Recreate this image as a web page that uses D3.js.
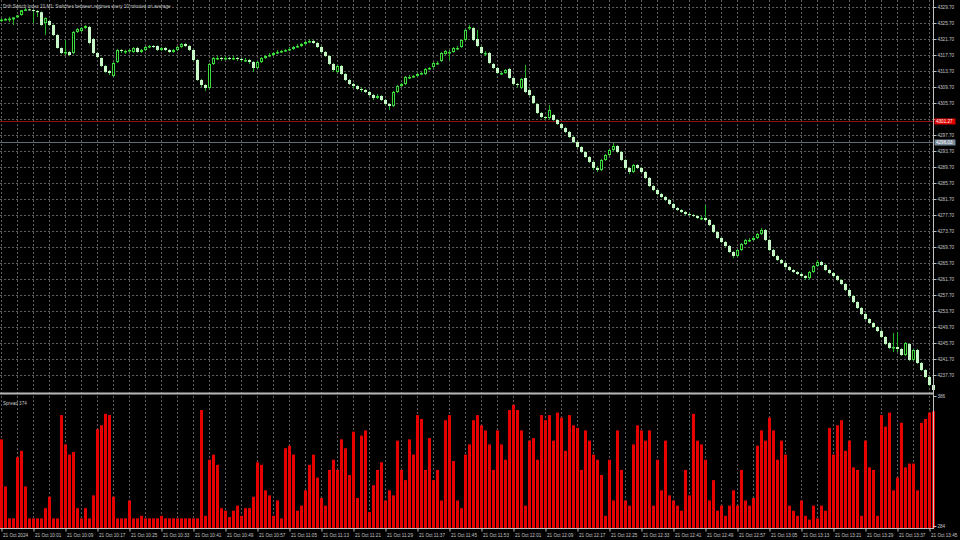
<!DOCTYPE html>
<html><head><meta charset="utf-8">
<script src="https://cdn.jsdelivr.net/npm/d3@7"></script>
<style>html,body{margin:0;padding:0;background:#000;overflow:hidden}</style>
</head><body>
<svg id="c" width="960" height="540"></svg>
<script>
const title = "Drift Switch Index 10,M1: Switches between regimes every 10 minutes on average";
const subTitle = "Spread 374";
const timeLabels = ["21 Oct 2024","21 Oct 10:01","21 Oct 10:09","21 Oct 10:17","21 Oct 10:25","21 Oct 10:33","21 Oct 10:41","21 Oct 10:49","21 Oct 10:57","21 Oct 11:05","21 Oct 11:13","21 Oct 11:21","21 Oct 11:29","21 Oct 11:37","21 Oct 11:45","21 Oct 11:53","21 Oct 12:01","21 Oct 12:09","21 Oct 12:17","21 Oct 12:25","21 Oct 12:33","21 Oct 12:41","21 Oct 12:49","21 Oct 12:57","21 Oct 13:05","21 Oct 13:13","21 Oct 13:21","21 Oct 13:29","21 Oct 13:37","21 Oct 13:45"];
const priceTicks = [4329.70,4325.70,4321.70,4317.70,4313.70,4309.70,4305.70,4301.70,4297.70,4293.70,4289.70,4285.70,4281.70,4277.70,4273.70,4269.70,4265.70,4261.70,4257.70,4253.70,4249.70,4245.70,4241.70,4237.70];
const spreadTicks = [386, 284];
const askLevel = 4301.27;
const bidLevel = 4296.03;

const opens = [4326.30,4326.55,4326.70,4326.60,4327.10,4327.70,4328.90,4329.10,4328.95,4328.70,4328.40,4325.70,4326.20,4325.20,4322.70,4319.45,4318.20,4318.45,4318.20,4323.45,4323.70,4324.45,4324.70,4321.70,4318.20,4316.95,4314.95,4313.70,4312.45,4315.95,4318.95,4318.70,4318.70,4318.45,4319.45,4318.45,4318.95,4319.70,4319.95,4319.95,
4318.95,4319.45,4318.95,4318.45,4318.95,4319.70,4320.45,4319.95,4318.95,4316.45,4311.45,4310.20,4309.45,4315.45,4316.95,4316.95,4316.70,4316.95,4316.70,4316.95,4316.70,4316.45,4316.45,4315.95,4314.45,4315.95,4316.95,4317.45,4317.70,4318.20,4318.45,4318.70,4318.95,4319.20,4319.70,4319.95,4320.45,4320.95,4321.20,4320.70,4319.70,4318.45,4317.45,4315.45,4313.45,4314.95,4312.95,4311.45,4310.45,4309.95,4309.20,4308.95,4308.45,4307.70,4306.95,4307.45,4306.45,4305.45,4304.95,4308.45,4309.95,4310.45,4312.20,4312.20,4312.45,4312.95,4312.95,4314.20,4314.70,4315.70,4316.20,4317.95,4318.45,4318.45,4319.45,4319.70,4321.45,4324.45,4324.45,4321.70,4319.70,4318.20,4318.20,4315.45,4314.45,4313.20,4313.20,4314.20,4311.95,4310.45,4309.45,4311.95,4308.95,4307.45,4305.45,4303.20,4302.20,4301.95,4302.70,4301.45,4300.45,4299.45,4298.45,4297.20,4295.95,4294.70,4293.45,4292.20,4290.95,4289.45,4288.95,4291.45,4292.70,4293.95,4294.95,4293.45,4291.45,4289.45,4288.45,4290.20,4289.45,4288.45,4286.95,4284.95,4283.95,4282.95,4282.20,4281.45,4280.45,4279.45,4278.95,4278.45,4277.95,4277.70,4277.45,4276.95,4276.95,4276.45,4275.20,4273.45,4271.95,4270.95,4269.95,4268.45,4267.45,4268.95,4270.45,4271.45,4271.45,4271.95,4272.95,4273.95,4271.45,4268.95,4267.45,4266.45,4265.70,4264.70,4263.95,4263.45,4262.95,4262.45,4261.95,4263.45,4264.95,4265.95,4265.20,4263.95,4263.20,4262.45,4261.45,4260.45,4258.95,4257.45,4255.95,4254.45,4252.95,4251.70,4250.70,4249.70,4248.70,4247.20,4245.70,4244.45,4244.70,4244.20,4242.70,4245.45,4241.45,4243.95,4240.70,4238.95,4237.20,4235.20];
const highs = [4326.90,4326.95,4327.25,4327.20,4327.70,4329.00,4329.45,4329.30,4329.10,4328.95,4328.60,4327.10,4326.50,4325.40,4322.90,4319.60,4321.45,4318.70,4323.70,4324.45,4324.70,4325.20,4325.00,4321.90,4318.40,4317.10,4315.20,4313.95,4315.95,4319.20,4319.20,4319.00,4319.20,4319.70,4319.70,4319.20,4319.95,4320.20,4320.20,4320.10,
4319.70,4319.70,4319.20,4319.20,4319.95,4320.70,4320.70,4320.20,4319.20,4316.70,4311.70,4310.45,4315.70,4317.20,4317.45,4317.20,4317.45,4317.20,4317.45,4317.20,4316.95,4316.95,4316.70,4316.20,4316.20,4317.20,4317.70,4318.20,4318.45,4318.95,4318.95,4319.20,4319.70,4319.95,4320.45,4320.70,4321.20,4321.70,4321.45,4320.95,4319.95,4318.70,4317.70,4315.70,4315.20,4315.20,4313.20,4311.70,4310.70,4310.20,4309.70,4309.20,4308.70,4307.95,4307.95,4307.70,4306.70,4305.70,4308.70,4310.20,4310.70,4312.45,4312.70,4312.70,4313.20,4313.45,4314.45,4314.70,4315.95,4316.20,4318.45,4318.95,4318.95,4319.70,4319.95,4321.70,4324.20,4325.20,4324.70,4323.95,4319.95,4318.70,4318.45,4315.70,4314.70,4313.70,4314.20,4314.45,4312.20,4310.70,4311.95,4315.20,4309.20,4307.70,4305.70,4303.45,4302.45,4305.20,4302.95,4301.70,4300.70,4299.70,4298.70,4297.45,4296.20,4294.95,4293.70,4292.45,4291.20,4289.95,4291.70,4292.95,4294.20,4295.70,4295.20,4293.70,4291.70,4289.70,4290.45,4290.45,4289.70,4288.70,4287.20,4285.20,4284.20,4283.20,4282.45,4281.70,4280.70,4279.70,4279.20,4278.70,4278.20,4277.95,4277.70,4277.45,4280.20,4276.70,4275.45,4273.70,4272.20,4271.20,4270.20,4268.70,4269.20,4270.70,4271.70,4271.95,4272.45,4273.20,4274.45,4274.20,4271.70,4269.20,4267.70,4266.70,4265.95,4264.95,4264.20,4263.70,4263.20,4262.70,4263.70,4265.20,4266.45,4266.20,4265.45,4264.20,4263.45,4262.70,4261.70,4260.70,4259.20,4257.70,4256.20,4254.70,4253.20,4251.95,4250.95,4249.95,4248.95,4247.45,4245.95,4248.20,4248.45,4244.45,4245.95,4245.70,4244.20,4244.20,4240.95,4239.20,4237.45,4235.45];
const lows = [4325.90,4326.30,4325.95,4325.20,4326.90,4327.50,4328.70,4328.80,4325.70,4327.20,4325.00,4322.70,4324.90,4322.40,4319.30,4317.90,4317.70,4317.40,4317.90,4323.20,4323.40,4324.20,4320.40,4317.90,4316.90,4314.70,4313.20,4312.70,4312.20,4315.70,4318.20,4318.00,4318.40,4318.20,4318.20,4318.20,4318.70,4319.45,4319.45,4318.70,
4318.70,4318.70,4318.20,4318.20,4318.70,4319.45,4319.70,4318.70,4316.20,4311.20,4309.70,4308.70,4309.20,4315.20,4316.45,4316.20,4316.45,4316.45,4316.45,4316.20,4315.95,4315.95,4315.45,4313.45,4314.20,4315.70,4316.70,4317.20,4317.45,4317.95,4318.20,4318.45,4318.70,4318.95,4319.45,4319.70,4320.20,4320.70,4320.45,4319.45,4318.20,4317.20,4315.20,4313.45,4313.20,4312.70,4311.20,4310.20,4309.45,4308.95,4308.45,4308.20,4307.45,4306.45,4306.70,4306.20,4305.20,4303.95,4304.70,4308.20,4309.70,4310.20,4311.70,4311.95,4312.20,4312.70,4312.70,4313.95,4314.45,4315.20,4315.95,4317.70,4316.45,4318.20,4318.95,4319.45,4321.20,4323.95,4321.20,4319.70,4317.95,4317.45,4315.45,4314.20,4312.95,4312.70,4312.95,4311.70,4310.20,4309.70,4309.20,4308.20,4307.45,4305.45,4302.95,4301.95,4301.45,4301.70,4301.20,4300.20,4299.20,4298.20,4296.95,4295.70,4294.45,4293.20,4291.95,4290.70,4288.95,4288.45,4288.70,4291.20,4292.45,4293.70,4293.20,4291.20,4289.20,4287.95,4288.20,4289.20,4288.20,4286.70,4284.70,4283.70,4282.70,4281.95,4281.20,4280.20,4279.20,4278.70,4278.20,4277.70,4277.45,4277.20,4276.70,4276.45,4276.20,4274.95,4273.20,4271.70,4270.70,4269.70,4268.20,4266.95,4267.20,4268.70,4270.20,4270.95,4271.20,4271.70,4272.70,4271.20,4268.70,4267.20,4266.20,4265.45,4264.45,4263.70,4263.20,4262.70,4262.20,4261.45,4261.70,4263.20,4264.70,4264.95,4263.70,4262.95,4262.20,4261.20,4260.20,4258.70,4257.20,4255.70,4254.20,4252.70,4251.45,4250.45,4249.45,4248.45,4246.95,4245.20,4244.20,4243.45,4243.45,4242.45,4242.45,4241.20,4241.20,4240.45,4238.70,4236.95,4234.95,4233.70];
const closes = [4326.55,4326.70,4326.80,4327.10,4327.60,4328.90,4329.10,4328.95,4328.70,4328.40,4325.20,4326.95,4325.20,4322.70,4319.45,4318.20,4318.45,4317.70,4323.45,4324.20,4324.45,4324.95,4320.70,4318.20,4317.20,4314.95,4313.45,4313.20,4315.70,4318.95,4318.70,4318.70,4318.95,4319.45,4318.45,4318.95,4319.70,4319.95,4319.80,4318.95,
4319.45,4318.95,4318.45,4318.95,4319.70,4320.45,4319.95,4318.95,4316.45,4311.45,4310.20,4309.45,4315.45,4316.95,4316.95,4316.70,4316.95,4316.70,4316.95,4316.70,4316.45,4316.45,4315.95,4314.45,4315.95,4316.95,4317.45,4317.70,4318.20,4318.45,4318.70,4318.95,4319.20,4319.70,4319.95,4320.45,4320.95,4321.20,4320.70,4319.70,4318.45,4317.45,4315.45,4313.95,4314.95,4312.95,4311.45,4310.45,4309.95,4309.20,4308.95,4308.45,4307.70,4306.95,4307.45,4306.45,4305.45,4304.95,4308.45,4309.95,4310.45,4312.20,4312.20,4312.45,4312.95,4313.20,4314.20,4314.45,4315.70,4315.70,4318.20,4318.70,4318.45,4319.45,4319.45,4321.45,4323.95,4324.70,4321.45,4319.95,4318.20,4318.20,4315.70,4314.45,4313.20,4313.20,4313.95,4311.95,4310.45,4310.20,4311.70,4308.45,4307.70,4305.70,4303.20,4302.20,4301.95,4303.95,4301.45,4300.45,4299.45,4298.45,4297.20,4295.95,4294.70,4293.45,4292.20,4290.95,4289.45,4288.95,4291.45,4292.70,4293.95,4294.95,4293.45,4291.45,4289.45,4288.45,4290.20,4289.45,4288.45,4286.95,4284.95,4283.95,4282.95,4282.20,4281.45,4280.45,4279.45,4278.95,4278.45,4277.95,4277.70,4277.45,4276.95,4276.95,4276.45,4275.20,4273.45,4271.95,4270.95,4269.95,4268.45,4267.45,4268.95,4270.45,4271.45,4271.45,4271.95,4272.95,4273.95,4271.45,4268.95,4267.45,4266.45,4265.70,4264.70,4263.95,4263.45,4262.95,4262.45,4261.95,4263.45,4264.95,4265.95,4265.20,4263.95,4263.20,4262.45,4261.45,4260.45,4258.95,4257.45,4255.95,4254.45,4252.95,4251.70,4250.70,4249.70,4248.70,4247.20,4245.45,4244.45,4244.70,4244.20,4242.70,4245.70,4241.45,4243.95,4240.70,4238.95,4237.20,4235.20,4233.95];
const spreads = [352,315,290,290,338,343,315,290,290,290,290,298,307,290,290,371,348,340,342,298,290,298,290,308,360,363,372,371,307,290,290,290,304,290,290,292,290,290,290,290,292,290,290,290,290,290,290,290,290,290,375,292,336,340,332,298,296,291,296,300,292,298,298,307,334,332,312,308,292,304,290,345,347,340,296,300,312,332,340,322,306,300,328,336,328,352,345,324,358,306,355,359,295,316,328,334,304,312,308,351,328,320,352,340,371,368,328,353,320,328,304,367,371,335,304,298,340,348,367,371,363,359,348,328,359,348,336,375,379,375,359,300,351,353,336,371,367,371,351,373,369,343,371,363,361,328,359,351,340,336,324,292,336,304,359,328,304,300,348,363,359,351,359,300,336,312,351,308,304,300,296,328,308,372,351,348,336,304,320,296,300,292,300,312,300,328,304,300,306,347,359,351,369,359,336,351,340,300,296,292,304,292,289,300,290,300,296,361,340,363,367,343,351,330,328,292,351,330,328,292,371,362,373,312,322,365,330,333,333,312,365,368,373,374];

const svg = d3.select("#c");
const FONT = "'Liberation Sans', Arial, sans-serif";
const TXT = "#c8c8c8";
svg.append("rect").attr("width",960).attr("height",540).attr("fill","#000");

const N = closes.length;
const x = d3.scaleLinear().domain([0, N-1]).range([1.5, 1.5 + 4*(N-1)]);
const y = d3.scaleLinear().domain([4237.70, 4329.70]).range([375, 7]);
const ys = d3.scaleLinear().domain([284, 386]).range([526, 396]);
const plotR = 933;

// grid
const grid = svg.append("g").attr("stroke","#5e5e5e").attr("stroke-width",1).attr("stroke-dasharray","2,2");
grid.selectAll("line.v").data(d3.range(0, N, 4)).join("line")
  .attr("x1", d=>x(d)).attr("x2", d=>x(d)).attr("y1",0).attr("y2",528);
grid.selectAll("line.h").data(priceTicks).join("line")
  .attr("x1",0).attr("x2",plotR).attr("y1",d=>Math.round(y(d))+0.5).attr("y2",d=>Math.round(y(d))+0.5);

const defs = svg.append("defs");
defs.append("clipPath").attr("id","cm").append("rect").attr("x",0).attr("y",0).attr("width",plotR+3).attr("height",392);
defs.append("clipPath").attr("id","cs").append("rect").attr("x",0).attr("y",395).attr("width",plotR+3).attr("height",133);

// ask / bid lines
svg.append("line").attr("x1",0).attr("x2",plotR).attr("y1",Math.round(y(askLevel))+0.5).attr("y2",Math.round(y(askLevel))+0.5).attr("stroke","#8c1414").attr("stroke-width",1);
svg.append("line").attr("x1",0).attr("x2",plotR).attr("y1",Math.round(y(bidLevel))+0.5).attr("y2",Math.round(y(bidLevel))+0.5).attr("stroke","#5d6a78").attr("stroke-width",1);

// candles
const cg = svg.append("g").attr("clip-path","url(#cm)");
const idx = d3.range(N);
const bodyTop = i => Math.max(opens[i], closes[i]);
const bodyBot = i => Math.min(opens[i], closes[i]);
const isBear = i => closes[i] < opens[i];
cg.selectAll("line.w").data(idx).join("line")
  .attr("x1", i=>x(i)).attr("x2", i=>x(i))
  .attr("y1", i=>y(highs[i])).attr("y2", i=>y(lows[i]))
  .attr("stroke","#22b422").attr("stroke-width",1);
cg.selectAll("rect.b").data(idx).join("rect")
  .attr("x", i=> isBear(i) ? x(i)-1.5 : x(i)-1)
  .attr("width", i=> isBear(i) ? 3 : 2)
  .attr("y", i=> isBear(i) ? y(bodyTop(i)) : y(bodyTop(i))+0.5)
  .attr("height", i=> Math.max(isBear(i) ? 1 : 0.5, y(bodyBot(i))-y(bodyTop(i)) - (isBear(i) ? 0 : 1)))
  .attr("fill", i=> isBear(i) ? "#c8f8c8" : "#000")
  .attr("stroke", i=> isBear(i) ? "none" : "#3cdc3c")
  .attr("stroke-width", 1);

// spread bars
const sg = svg.append("g").attr("clip-path","url(#cs)");
sg.selectAll("rect").data(idx).join("rect")
  .attr("x", i=>x(i)-1.5).attr("width",3)
  .attr("y", i=>ys(spreads[i])).attr("height", i=>528-ys(spreads[i]))
  .attr("fill","#e60000");

// frame lines
svg.append("line").attr("x1",plotR+0.5).attr("x2",plotR+0.5).attr("y1",0).attr("y2",529).attr("stroke","#c0c0c0");
svg.append("rect").attr("x",0).attr("y",392.5).attr("width",plotR+1).attr("height",2).attr("fill","#b8b8b8");
svg.append("line").attr("x1",0).attr("x2",plotR+1).attr("y1",528.5).attr("y2",528.5).attr("stroke","#c0c0c0");

// price axis
const pa = svg.append("g").attr("transform",`translate(${plotR+0.5},0)`)
  .call(d3.axisRight(y).tickValues(priceTicks).tickFormat(d=>d.toFixed(2)).tickSize(3).tickPadding(1));
pa.select(".domain").remove();
pa.selectAll("line").attr("stroke","#c0c0c0");
pa.selectAll("text").attr("fill",TXT).style("font-family",FONT).style("font-size","4.6px");
// the ask marker covers the tick label beneath it, as in the terminal
pa.selectAll(".tick").filter(d => Math.abs(y(d) - y(askLevel)) < 5).select("text").remove();

// spread axis
const sa = svg.append("g").attr("transform",`translate(${plotR+0.5},0)`)
  .call(d3.axisRight(ys).tickValues(spreadTicks).tickFormat(d3.format("d")).tickSize(3).tickPadding(1));
sa.select(".domain").remove();
sa.selectAll("line").attr("stroke","#c0c0c0");
sa.selectAll("text").attr("fill",TXT).style("font-family",FONT).style("font-size","4.6px");

// time axis
const tIdx = timeLabels.map((_,k)=>k*8);
const ta = svg.append("g").attr("transform","translate(0,528.5)")
  .call(d3.axisBottom(x).tickValues(tIdx).tickFormat((d,k)=>timeLabels[k]).tickSize(3).tickPadding(2));
ta.select(".domain").remove();
ta.selectAll("line").attr("stroke","#c0c0c0");
ta.selectAll("text").attr("fill",TXT).attr("text-anchor","start").attr("dx","1")
  .style("font-family",FONT).style("font-size","4.6px");

// price markers
function marker(level, bg, fg){
  const yy = Math.round(y(level))+0.5;
  svg.append("rect").attr("x",plotR+1.5).attr("y",yy-3).attr("width",21).attr("height",6).attr("fill",bg);
  svg.append("text").attr("x",plotR+3).attr("y",yy).attr("dy","0.35em").text(level.toFixed(2))
    .attr("fill",fg).style("font-family",FONT).style("font-size","4.6px");
}
marker(askLevel, "#e00000", "#ffffff");
marker(bidLevel, "#778899", "#ffffff");

// titles
svg.append("text").attr("x",3).attr("y",6).attr("dy","0.35em").text(title)
  .attr("fill",TXT).style("font-family",FONT).style("font-size","4.6px");
svg.append("text").attr("x",3).attr("y",403).attr("dy","0.35em").text(subTitle)
  .attr("fill",TXT).style("font-family",FONT).style("font-size","4.6px");
</script>
</body></html>
